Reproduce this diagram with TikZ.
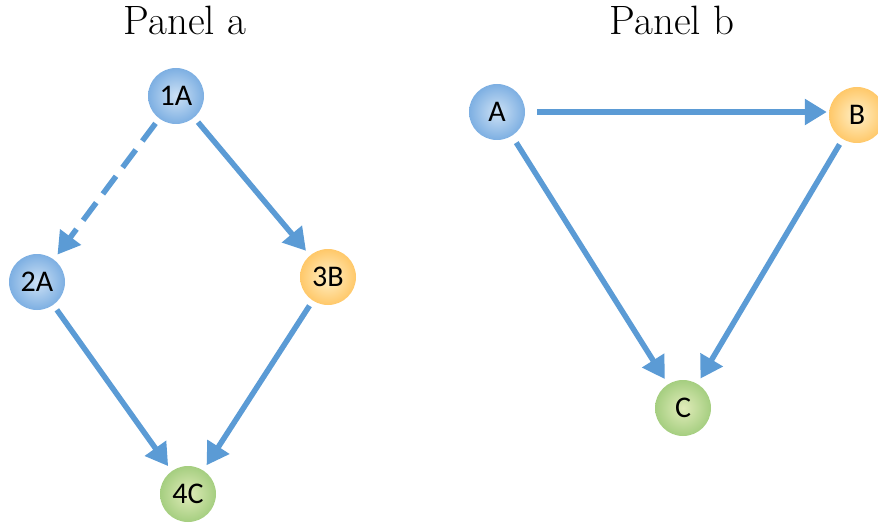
\documentclass[tikz,border=0pt]{standalone}
\usepackage{fontspec}
\newfontfamily\nodefont{Carlito}
\usetikzlibrary{arrows.meta}
\definecolor{edgeblue}{RGB}{91,155,213}
\begin{document}
\begin{tikzpicture}[x=1pt,y=-1pt,
  circ/.style={circle,minimum size=56pt,inner sep=0pt,font=\nodefont\fontsize{30}{32}\selectfont,text=black},
  bluec/.style={circ,inner color={rgb,255:red,205;green,225;blue,245},outer color={rgb,255:red,125;green,175;blue,226}},
  orangec/.style={circ,inner color={rgb,255:red,255;green,240;blue,200},outer color={rgb,255:red,255;green,200;blue,105}},
  greenc/.style={circ,inner color={rgb,255:red,225;green,236;blue,186},outer color={rgb,255:red,165;green,206;blue,128}},
  edge/.style={draw=edgeblue,line width=5.5pt,-{Triangle[length=22pt,width=25pt]}},
  title/.style={font=\fontsize{41}{44}\selectfont}]
\useasboundingbox (0,0) rectangle (878,524);
\node[title] (ta) at (185,20) {Panel a};
\node[title] (tb) at (672,20) {Panel b};
\node[bluec] (n1A) at (176,96) {1A};
\node[bluec] (n2A) at (37,282) {2A};
\node[orangec] (n3B) at (328,277) {3B};
\node[greenc] (n4C) at (188,494) {4C};
\node[bluec] (nA) at (497,112) {A};
\node[orangec] (nB) at (857,115) {B};
\node[greenc] (nC) at (683,408) {C};
\draw[edge,dash pattern=on 22pt off 11pt,shorten <=6pt,shorten >=6pt] (n1A) -- (n2A);
\draw[edge,shorten <=6pt,shorten >=6pt] (n1A) -- (n3B);
\draw[edge,shorten <=6pt,shorten >=6pt] (n2A) -- (n4C);
\draw[edge,shorten <=6pt,shorten >=6pt] (n3B) -- (n4C);
\draw[edge,shorten <=12pt,shorten >=2pt] (nA.east |- 0,112) -- (nB.west |- 0,112);
\draw[edge,shorten <=8pt,shorten >=6pt] (nA) -- (nC);
\draw[edge,shorten <=6pt,shorten >=6pt] (nB) -- (nC);
\end{tikzpicture}
\end{document}
